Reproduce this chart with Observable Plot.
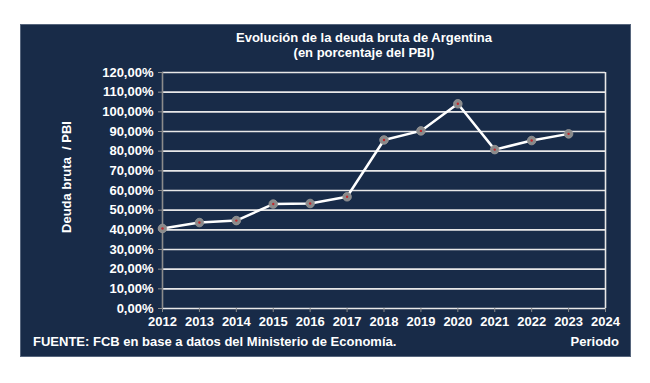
<!DOCTYPE html>
<html>
<head>
<meta charset="utf-8">
<script src="https://cdn.jsdelivr.net/npm/d3@7"></script>
<script src="https://cdn.jsdelivr.net/npm/@observablehq/plot@0.6"></script>
<style>
  html, body { margin: 0; padding: 0; background: #ffffff; }
  #wrap { position: relative; width: 650px; height: 383px; background: #ffffff; overflow: hidden;
          font-family: "Liberation Sans", Arial, sans-serif; }
  #panel { position: absolute; left: 20px; top: 24px; width: 609px; height: 331px;
           background: #182b48; border: 1px solid #56657c; }
  #chart { position: absolute; left: 0; top: 0; }
  .t { position: absolute; color: #ffffff; font-weight: bold; font-size: 13px; white-space: nowrap; }
</style>
</head>
<body>
<div id="wrap">
  <div id="panel"></div>
  <div id="chart"></div>
  <div class="t" id="title" style="left:0;width:728px;text-align:center;top:30px;line-height:15px;">Evolución de la deuda bruta de Argentina<br>(en porcentaje del PBI)</div>
  <div class="t" id="ylabel" style="left:66px;top:177px;transform:translate(-50%,-50%) rotate(-90deg);">Deuda bruta &nbsp;/ PBI</div>
  <div class="t" id="source" style="left:33px;top:334px;">FUENTE: FCB en base a datos del Ministerio de Economía.</div>
  <div class="t" id="xlabel" style="right:31px;top:334px;">Periodo</div>
</div>
<script>
const years = [2012, 2013, 2014, 2015, 2016, 2017, 2018, 2019, 2020, 2021, 2022, 2023];
const debtPct = [40.7, 43.7, 44.7, 53.1, 53.4, 56.8, 85.7, 90.3, 104.1, 80.8, 85.4, 88.8];
const xTicks = [2012, 2013, 2014, 2015, 2016, 2017, 2018, 2019, 2020, 2021, 2022, 2023, 2024];
const yTicks = [0, 10, 20, 30, 40, 50, 60, 70, 80, 90, 100, 110, 120];

const data = years.map((y, i) => ({year: y, value: debtPct[i]}));
const fmtPct = d => d.toFixed(2).replace(".", ",") + "%";

const chart = Plot.plot({
  width: 650,
  height: 383,
  marginLeft: 162,
  marginRight: 45,
  marginTop: 72,
  marginBottom: 75,
  style: {background: "transparent", color: "#ffffff", fontFamily: "Liberation Sans, Arial, sans-serif", fontSize: "13px", fontWeight: "bold"},
  x: {domain: [2012, 2024], ticks: xTicks, tickFormat: d => String(d), label: null},
  y: {domain: [0, 120], ticks: yTicks, tickFormat: fmtPct, label: null},
  marks: [
    Plot.gridY(yTicks, {stroke: "#e8e8e8", strokeOpacity: 1, strokeWidth: 1.6}),
    Plot.ruleX([2024], {stroke: "#e8e8e8", strokeWidth: 1.6}),
    Plot.ruleX([2012], {stroke: "#8c8c8c", strokeWidth: 1.6}),
    Plot.axisY(yTicks, {tickFormat: fmtPct, tickSize: 4, tickPadding: 5, stroke: "#8c8c8c", fill: "#ffffff", fontWeight: "bold", fontSize: 13, label: null}),
    Plot.axisX(xTicks, {tickFormat: d => String(d), tickSize: 4, tickPadding: 4, stroke: "#8c8c8c", fill: "#ffffff", fontWeight: "bold", fontSize: 13, label: null}),
    Plot.line(data, {x: "year", y: "value", stroke: "#ffffff", strokeWidth: 2.5}),
    Plot.dot(data, {x: "year", y: "value", r: 4.3, fill: "#8a8a8a", stroke: "#9a9a9a", strokeWidth: 0.8}),
    Plot.dot(data, {x: "year", y: "value", r: 1.2, fill: "#c0282d"})
  ]
});
document.getElementById("chart").appendChild(chart);
</script>
</body>
</html>
